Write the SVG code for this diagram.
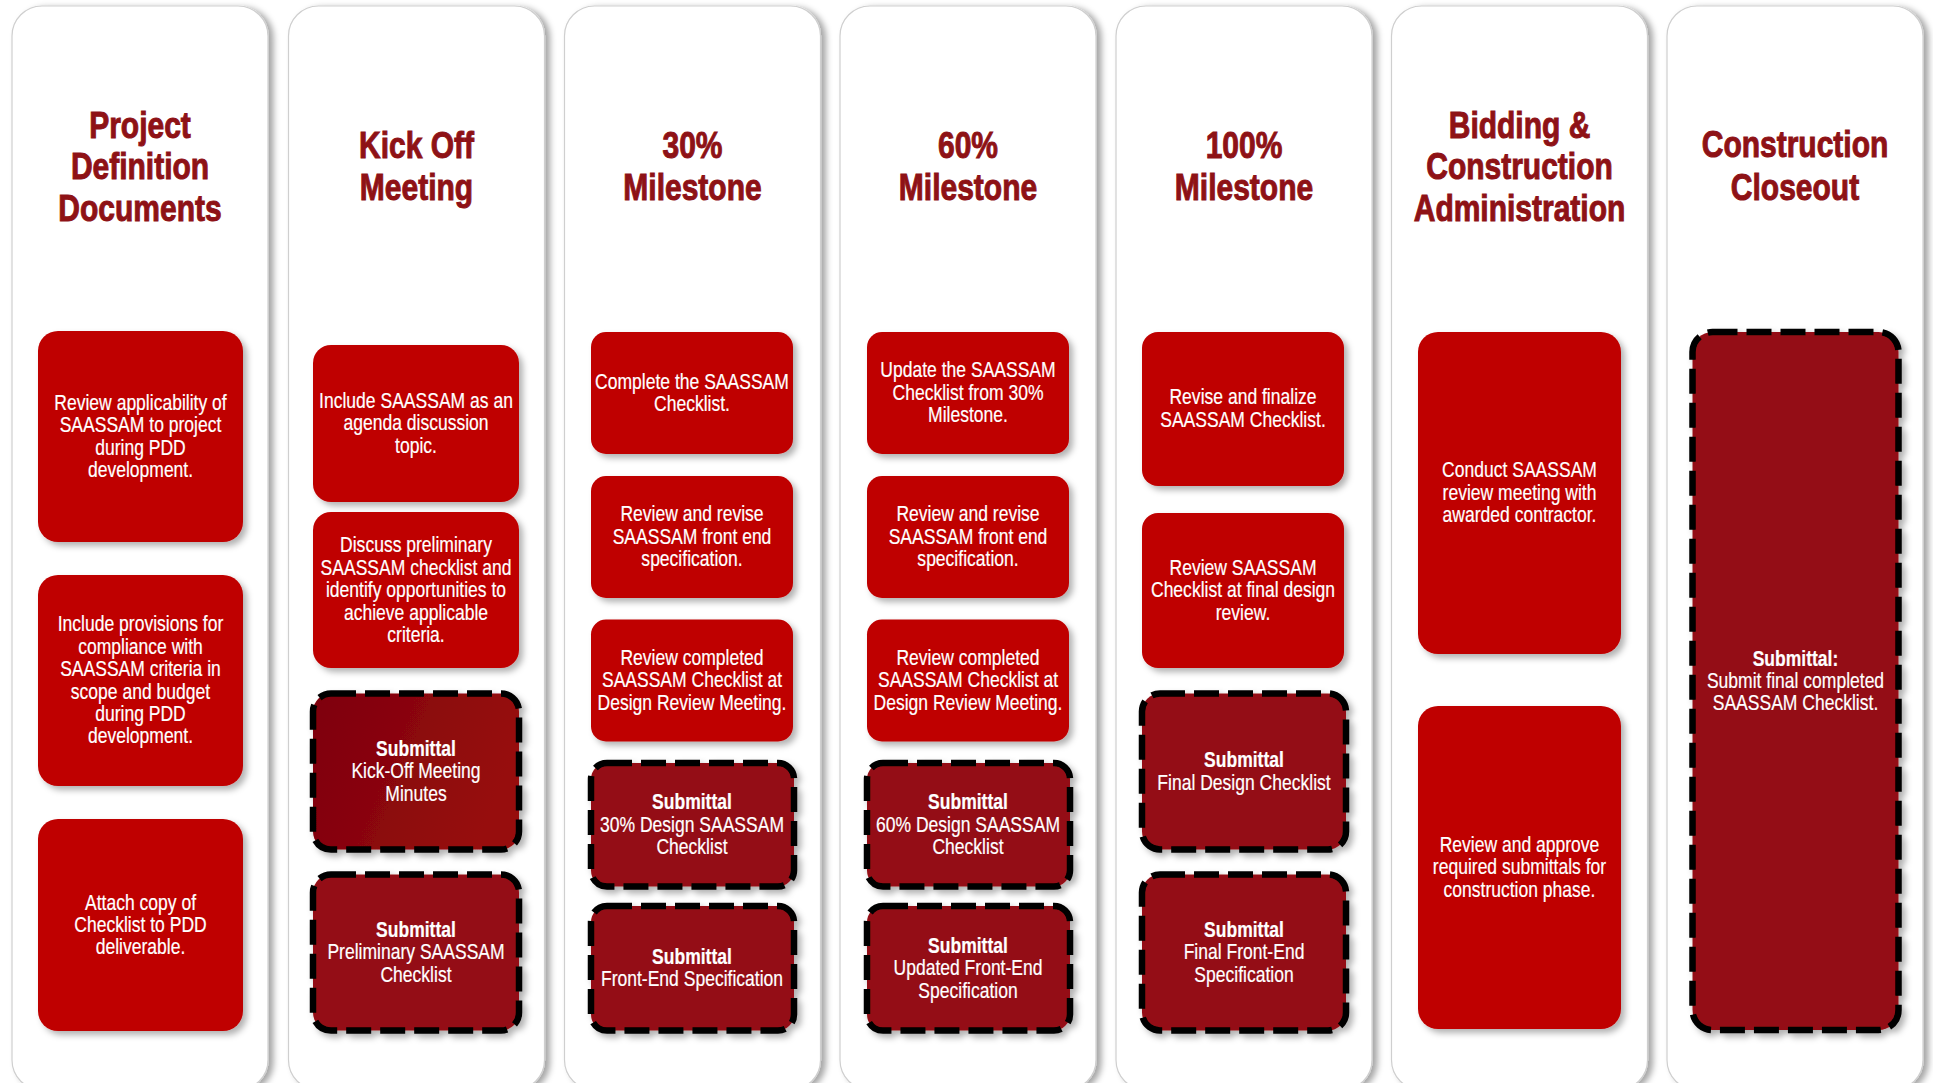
<svg xmlns="http://www.w3.org/2000/svg" width="1933" height="1083" viewBox="0 0 1933 1083">
  <defs>
    <filter id="cardShadow" x="-10%" y="-5%" width="125%" height="115%">
      <feDropShadow dx="5" dy="2" stdDeviation="3" flood-color="#000" flood-opacity="0.35"/>
    </filter>
    <filter id="boxShadow" x="-10%" y="-10%" width="130%" height="130%">
      <feDropShadow dx="4" dy="4" stdDeviation="3" flood-color="#000" flood-opacity="0.3"/>
    </filter>
    <linearGradient id="kickoffFill" x1="0" y1="0" x2="1" y2="0.3">
      <stop offset="0" stop-color="#7e0007"/>
      <stop offset="1" stop-color="#970d11"/>
    </linearGradient>
    <style>
      .card { fill: #ffffff; stroke: #cfcfcf; stroke-width: 1.2; filter: url(#cardShadow); }
      .task { fill: #bf0000; filter: url(#boxShadow); }
      .sub { fill: #941014; stroke: #000; stroke-width: 6.5; stroke-dasharray: 25 9; filter: url(#boxShadow); }
      .head { font-family: "Liberation Sans", Arial, sans-serif; font-weight: bold; font-size: 37.5px; fill: #8e1216; stroke: #8e1216; stroke-width: 1; text-anchor: middle; }
      .txt { font-family: "Liberation Sans", Arial, sans-serif; font-size: 21.5px; fill: #ffffff; stroke: #ffffff; stroke-width: 0.2; text-anchor: middle; }
      .b { font-weight: bold; }
    </style>
  </defs>

  <!-- phase columns; condensed lettering is a horizontal squeeze of the text -->
  <g id="phase-pdd">
    <rect class="card" x="12" y="6" width="256" height="1084" rx="30"/>
    <text class="head" transform="translate(140 0) scale(0.8 1)" x="0" y="138">Project<tspan x="0" dy="41.5">Definition</tspan><tspan x="0" dy="41.5">Documents</tspan></text>
  </g>
  <g id="phase-kickoff">
    <rect class="card" x="288.5" y="6" width="256" height="1084" rx="30"/>
    <text class="head" transform="translate(416.5 0) scale(0.8 1)" x="0" y="158.5">Kick Off<tspan x="0" dy="41.5">Meeting</tspan></text>
  </g>
  <g id="phase-30">
    <rect class="card" x="564.5" y="6" width="256" height="1084" rx="30"/>
    <text class="head" transform="translate(692.5 0) scale(0.8 1)" x="0" y="158.5">30%<tspan x="0" dy="41.5">Milestone</tspan></text>
  </g>
  <g id="phase-60">
    <rect class="card" x="840" y="6" width="256" height="1084" rx="30"/>
    <text class="head" transform="translate(968 0) scale(0.8 1)" x="0" y="158.5">60%<tspan x="0" dy="41.5">Milestone</tspan></text>
  </g>
  <g id="phase-100">
    <rect class="card" x="1116" y="6" width="256" height="1084" rx="30"/>
    <text class="head" transform="translate(1244 0) scale(0.8 1)" x="0" y="158.5">100%<tspan x="0" dy="41.5">Milestone</tspan></text>
  </g>
  <g id="phase-bidding">
    <rect class="card" x="1391.5" y="6" width="256" height="1084" rx="30"/>
    <text class="head" transform="translate(1519.5 0) scale(0.8 1)" x="0" y="138">Bidding &amp;<tspan x="0" dy="41.5">Construction</tspan><tspan x="0" dy="41.5">Administration</tspan></text>
  </g>
  <g id="phase-closeout">
    <rect class="card" x="1667" y="6" width="256" height="1084" rx="30"/>
    <text class="head" transform="translate(1795 0) scale(0.8 1)" x="0" y="156.7">Construction<tspan x="0" dy="43">Closeout</tspan></text>
  </g>

  <!-- Project Definition Documents tasks -->
  <g id="pdd-review">
    <rect class="task" x="38" y="331" width="205" height="211" rx="20"/>
    <text class="txt" transform="translate(140.5 0) scale(0.815 1)" x="0" y="409.9">Review applicability of<tspan x="0" dy="22.4">SAASSAM to project</tspan><tspan x="0" dy="22.4">during PDD</tspan><tspan x="0" dy="22.4">development.</tspan></text>
  </g>
  <g id="pdd-provisions">
    <rect class="task" x="38" y="575" width="205" height="211" rx="20"/>
    <text class="txt" transform="translate(140.5 0) scale(0.815 1)" x="0" y="631.5">Include provisions for<tspan x="0" dy="22.4">compliance with</tspan><tspan x="0" dy="22.4">SAASSAM criteria in</tspan><tspan x="0" dy="22.4">scope and budget</tspan><tspan x="0" dy="22.4">during PDD</tspan><tspan x="0" dy="22.4">development.</tspan></text>
  </g>
  <g id="pdd-attach">
    <rect class="task" x="38" y="819" width="205" height="212" rx="20"/>
    <text class="txt" transform="translate(140.5 0) scale(0.815 1)" x="0" y="909.6">Attach copy of<tspan x="0" dy="22.4">Checklist to PDD</tspan><tspan x="0" dy="22.4">deliverable.</tspan></text>
  </g>

  <!-- Kick Off Meeting tasks -->
  <g id="kickoff-agenda">
    <rect class="task" x="313" y="345" width="206" height="157" rx="18"/>
    <text class="txt" transform="translate(416 0) scale(0.815 1)" x="0" y="407.9">Include SAASSAM as an<tspan x="0" dy="22.4">agenda discussion</tspan><tspan x="0" dy="22.4">topic.</tspan></text>
  </g>
  <g id="kickoff-discuss">
    <rect class="task" x="313" y="512" width="206" height="156" rx="18"/>
    <text class="txt" transform="translate(416 0) scale(0.815 1)" x="0" y="552.5">Discuss preliminary<tspan x="0" dy="22.4">SAASSAM checklist and</tspan><tspan x="0" dy="22.4">identify opportunities to</tspan><tspan x="0" dy="22.4">achieve applicable</tspan><tspan x="0" dy="22.4">criteria.</tspan></text>
  </g>
  <g id="kickoff-minutes">
    <rect class="sub" x="313" y="693.5" width="206" height="156" rx="18" style="fill:url(#kickoffFill)"/>
    <text class="txt" transform="translate(416 0) scale(0.815 1)" x="0" y="756.1"><tspan class="b">Submittal</tspan><tspan x="0" dy="22.4">Kick-Off Meeting</tspan><tspan x="0" dy="22.4">Minutes</tspan></text>
  </g>
  <g id="kickoff-prelim">
    <rect class="sub" x="313" y="874.5" width="206" height="156" rx="18"/>
    <text class="txt" transform="translate(416 0) scale(0.815 1)" x="0" y="937.1"><tspan class="b">Submittal</tspan><tspan x="0" dy="22.4">Preliminary SAASSAM</tspan><tspan x="0" dy="22.4">Checklist</tspan></text>
  </g>

  <!-- 30% Milestone tasks -->
  <g id="m30-complete">
    <rect class="task" x="591" y="332" width="202" height="122" rx="15"/>
    <text class="txt" transform="translate(692 0) scale(0.815 1)" x="0" y="388.7">Complete the SAASSAM<tspan x="0" dy="22.4">Checklist.</tspan></text>
  </g>
  <g id="m30-spec">
    <rect class="task" x="591" y="476" width="202" height="122" rx="15"/>
    <text class="txt" transform="translate(692 0) scale(0.815 1)" x="0" y="521.3">Review and revise<tspan x="0" dy="22.4">SAASSAM front end</tspan><tspan x="0" dy="22.4">specification.</tspan></text>
  </g>
  <g id="m30-review">
    <rect class="task" x="591" y="619.5" width="202" height="122" rx="15"/>
    <text class="txt" transform="translate(692 0) scale(0.815 1)" x="0" y="665.1">Review completed<tspan x="0" dy="22.4">SAASSAM Checklist at</tspan><tspan x="0" dy="22.4">Design Review Meeting.</tspan></text>
  </g>
  <g id="m30-checklist">
    <rect class="sub" x="591" y="763" width="203" height="123.5" rx="16"/>
    <text class="txt" transform="translate(692 0) scale(0.815 1)" x="0" y="809.3"><tspan class="b">Submittal</tspan><tspan x="0" dy="22.4">30% Design SAASSAM</tspan><tspan x="0" dy="22.4">Checklist</tspan></text>
  </g>
  <g id="m30-frontend">
    <rect class="sub" x="591" y="906" width="203" height="124.5" rx="16"/>
    <text class="txt" transform="translate(692 0) scale(0.815 1)" x="0" y="964"><tspan class="b">Submittal</tspan><tspan x="0" dy="22.4">Front-End Specification</tspan></text>
  </g>

  <!-- 60% Milestone tasks -->
  <g id="m60-update">
    <rect class="task" x="867" y="332" width="202" height="122" rx="15"/>
    <text class="txt" transform="translate(968 0) scale(0.815 1)" x="0" y="377.5">Update the SAASSAM<tspan x="0" dy="22.4">Checklist from 30%</tspan><tspan x="0" dy="22.4">Milestone.</tspan></text>
  </g>
  <g id="m60-spec">
    <rect class="task" x="867" y="476" width="202" height="122" rx="15"/>
    <text class="txt" transform="translate(968 0) scale(0.815 1)" x="0" y="521.3">Review and revise<tspan x="0" dy="22.4">SAASSAM front end</tspan><tspan x="0" dy="22.4">specification.</tspan></text>
  </g>
  <g id="m60-review">
    <rect class="task" x="867" y="619.5" width="202" height="122" rx="15"/>
    <text class="txt" transform="translate(968 0) scale(0.815 1)" x="0" y="665.1">Review completed<tspan x="0" dy="22.4">SAASSAM Checklist at</tspan><tspan x="0" dy="22.4">Design Review Meeting.</tspan></text>
  </g>
  <g id="m60-checklist">
    <rect class="sub" x="867" y="763" width="203" height="123.5" rx="16"/>
    <text class="txt" transform="translate(968 0) scale(0.815 1)" x="0" y="809.3"><tspan class="b">Submittal</tspan><tspan x="0" dy="22.4">60% Design SAASSAM</tspan><tspan x="0" dy="22.4">Checklist</tspan></text>
  </g>
  <g id="m60-frontend">
    <rect class="sub" x="867" y="906" width="203" height="124.5" rx="16"/>
    <text class="txt" transform="translate(968 0) scale(0.815 1)" x="0" y="952.8"><tspan class="b">Submittal</tspan><tspan x="0" dy="22.4">Updated Front-End</tspan><tspan x="0" dy="22.4">Specification</tspan></text>
  </g>

  <!-- 100% Milestone tasks -->
  <g id="m100-finalize">
    <rect class="task" x="1142" y="332" width="202" height="154" rx="16"/>
    <text class="txt" transform="translate(1243 0) scale(0.815 1)" x="0" y="404.5">Revise and finalize<tspan x="0" dy="22.4">SAASSAM Checklist.</tspan></text>
  </g>
  <g id="m100-review">
    <rect class="task" x="1142" y="513" width="202" height="155" rx="16"/>
    <text class="txt" transform="translate(1243 0) scale(0.815 1)" x="0" y="574.8">Review SAASSAM<tspan x="0" dy="22.4">Checklist at final design</tspan><tspan x="0" dy="22.4">review.</tspan></text>
  </g>
  <g id="m100-checklist">
    <rect class="sub" x="1142" y="693.5" width="204" height="156" rx="18"/>
    <text class="txt" transform="translate(1244 0) scale(0.815 1)" x="0" y="767.3"><tspan class="b">Submittal</tspan><tspan x="0" dy="22.4">Final Design Checklist</tspan></text>
  </g>
  <g id="m100-frontend">
    <rect class="sub" x="1142" y="874.5" width="204" height="156" rx="18"/>
    <text class="txt" transform="translate(1244 0) scale(0.815 1)" x="0" y="937.1"><tspan class="b">Submittal</tspan><tspan x="0" dy="22.4">Final Front-End</tspan><tspan x="0" dy="22.4">Specification</tspan></text>
  </g>

  <!-- Bidding & Construction Administration tasks -->
  <g id="bca-meeting">
    <rect class="task" x="1418" y="332" width="203" height="322" rx="20"/>
    <text class="txt" transform="translate(1519.5 0) scale(0.815 1)" x="0" y="477.5">Conduct SAASSAM<tspan x="0" dy="22.4">review meeting with</tspan><tspan x="0" dy="22.4">awarded contractor.</tspan></text>
  </g>
  <g id="bca-approve">
    <rect class="task" x="1418" y="706" width="203" height="323" rx="20"/>
    <text class="txt" transform="translate(1519.5 0) scale(0.815 1)" x="0" y="852.1">Review and approve<tspan x="0" dy="22.4">required submittals for</tspan><tspan x="0" dy="22.4">construction phase.</tspan></text>
  </g>

  <!-- Construction Closeout task -->
  <g id="closeout-final">
    <rect class="sub" x="1692.5" y="332" width="206" height="698" rx="20"/>
    <text class="txt" transform="translate(1795.5 0) scale(0.815 1)" x="0" y="665.6"><tspan class="b">Submittal:</tspan><tspan x="0" dy="22.4">Submit final completed</tspan><tspan x="0" dy="22.4">SAASSAM Checklist.</tspan></text>
  </g>

  <!-- no connectors between phases -->
  <g id="connectors"/>
</svg>
